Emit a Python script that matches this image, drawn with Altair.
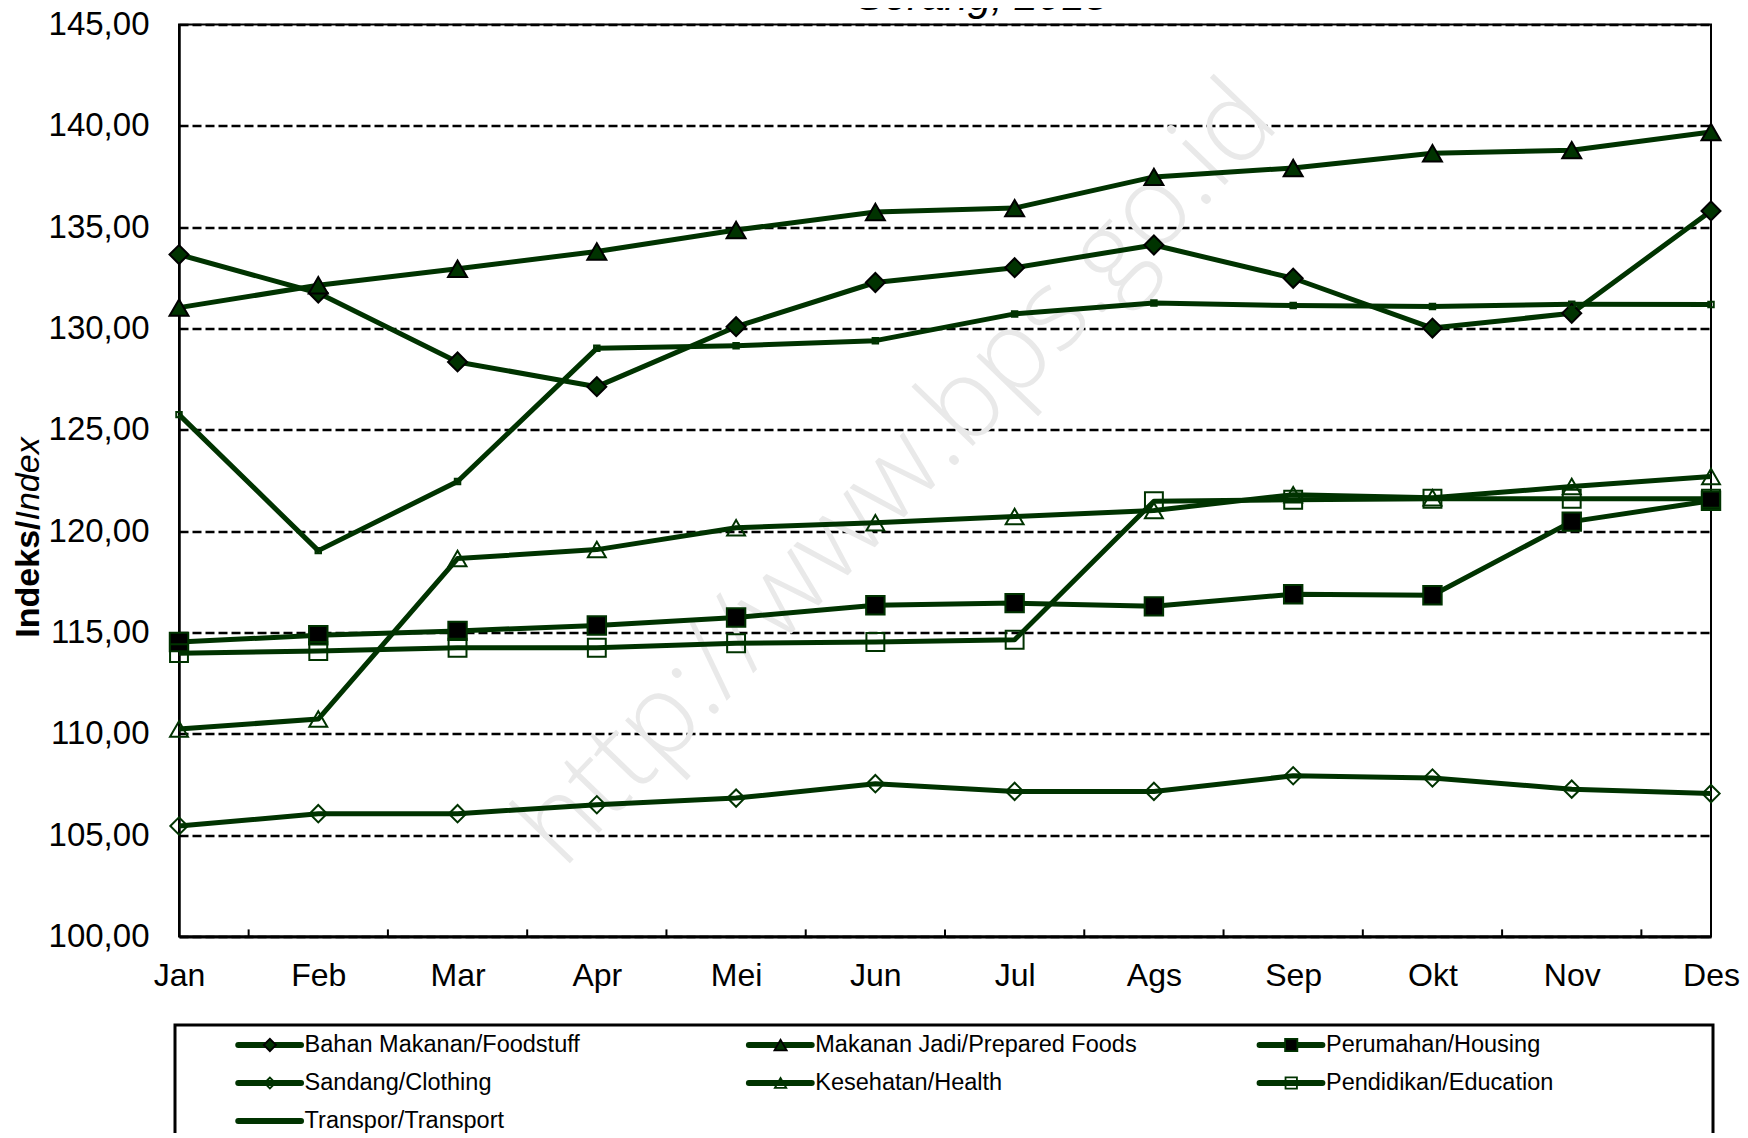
import altair as alt
import pandas as pd

# ---------------- data ----------------
months = ["Jan", "Feb", "Mar", "Apr", "Mei", "Jun", "Jul", "Ags", "Sep", "Okt", "Nov", "Des"]
series_names = [
    "Bahan Makanan/Foodstuff",
    "Makanan Jadi/Prepared Foods",
    "Perumahan/Housing",
    "Sandang/Clothing",
    "Kesehatan/Health",
    "Pendidikan/Education",
    "Transpor/Transport",
]
bahan_makanan = [133.65, 131.75, 128.35, 127.13, 130.09, 132.27, 133.00, 134.12, 132.48, 130.02, 130.75, 135.80]
makanan_jadi = [131.03, 132.13, 132.95, 133.80, 134.86, 135.75, 135.94, 137.48, 137.92, 138.65, 138.80, 139.70]
perumahan = [114.53, 114.86, 115.08, 115.35, 115.74, 116.34, 116.45, 116.29, 116.89, 116.84, 120.47, 121.50]
sandang = [105.45, 106.06, 106.06, 106.50, 106.83, 107.54, 107.16, 107.16, 107.93, 107.82, 107.27, 107.05]
kesehatan = [110.24, 110.73, 118.65, 119.09, 120.17, 120.42, 120.72, 121.02, 121.80, 121.65, 122.20, 122.70]
pendidikan = [113.98, 114.09, 114.25, 114.25, 114.47, 114.53, 114.64, 121.48, 121.55, 121.60, 121.60, 121.60]
transpor = [125.75, 119.04, 122.45, 129.02, 129.15, 129.40, 130.72, 131.26, 131.13, 131.08, 131.20, 131.18]
all_values = [bahan_makanan, makanan_jadi, perumahan, sandang, kesehatan, pendidikan, transpor]

y_tick_values = [100, 105, 110, 115, 120, 125, 130, 135, 140, 145]
x_minor_ticks = [0.5, 1.5, 2.5, 3.5, 4.5, 5.5, 6.5, 7.5, 8.5, 9.5, 10.5]
title_text = "Serang, 2018"
ytitle_bold = "Indeks/"
ytitle_italic = "Index"
watermark_text = "http://www.bps.go.id"

# ---------------- styles ----------------
GREEN = "#003300"
FONT = "Liberation Sans"
marker_shapes = ["diamond", "triangle-up", "square", "diamond", "triangle-up", "square", "square"]
marker_fills = [GREEN, GREEN, "#000000", "transparent", "transparent", "transparent", "transparent"]
marker_strokes = ["#000000", "#000000", GREEN, GREEN, GREEN, GREEN, GREEN]
marker_sizes = [360, 360, 340, 300, 320, 320, 30]
legend_marker_sizes = [150, 150, 150, 120, 130, 130, 0]

W, H = 1532, 912

rows = []
for name, vals in zip(series_names, all_values):
    for i, v in enumerate(vals):
        rows.append({"series": name, "m": i, "value": v})
df = pd.DataFrame(rows)

size_map = dict(zip(series_names, marker_sizes))
df["msize"] = df["series"].map(size_map)

months_js = "[" + ",".join("'" + m + "'" for m in months) + "]"

x_scale = alt.Scale(domain=[0, 11], nice=False, zero=False)
y_scale = alt.Scale(domain=[100, 145], nice=False, zero=False)
x_axis = alt.Axis(values=list(range(12)), labelExpr=months_js + "[datum.value]", title=None,
                  grid=False, ticks=False, tickSize=0, labelPadding=24, domainWidth=3,
                  domainColor="black", labelFontSize=32, labelFont=FONT, labelColor="black",
                  labelFlush=False, labelOverlap=False, labelBound=False)
y_axis = alt.Axis(values=y_tick_values, labelExpr="replace(format(datum.value, '.2f'), '.', ',')",
                  title=None, grid=True, gridDash=[9, 4], gridColor="black", gridWidth=2.5,
                  gridOpacity=1, ticks=False, tickSize=0, labelPadding=30, domainWidth=2.5,
                  domainColor="black", labelFontSize=33, labelFont=FONT, labelColor="black",
                  labelFlush=False, labelOverlap=False, labelBound=False)

shape_scale = alt.Scale(domain=series_names, range=marker_shapes)
fill_scale = alt.Scale(domain=series_names, range=marker_fills)
stroke_scale = alt.Scale(domain=series_names, range=marker_strokes)

base = alt.Chart(df)

lines = base.mark_line(strokeWidth=5, color=GREEN, strokeJoin="round").encode(
    x=alt.X("m:Q", scale=x_scale, axis=x_axis),
    y=alt.Y("value:Q", scale=y_scale, axis=y_axis),
    detail="series:N",
)

points = base.mark_point(filled=True, strokeWidth=2, opacity=1).encode(
    x=alt.X("m:Q", scale=x_scale, axis=x_axis),
    y=alt.Y("value:Q", scale=y_scale, axis=y_axis),
    shape=alt.Shape("series:N", scale=shape_scale, legend=None),
    fill=alt.Fill("series:N", scale=fill_scale, legend=None),
    stroke=alt.Stroke("series:N", scale=stroke_scale, legend=None),
    size=alt.Size("msize:Q", scale=None, legend=None),
)

tick_df = pd.DataFrame({"t": x_minor_ticks, "y0": [100.0] * len(x_minor_ticks),
                        "y1": [100.35] * len(x_minor_ticks)})
ticks = alt.Chart(tick_df).mark_rule(color="black", strokeWidth=2).encode(
    x=alt.X("t:Q", scale=x_scale, axis=x_axis),
    y=alt.Y("y0:Q", scale=y_scale, axis=y_axis),
    y2="y1:Q",
)

one = pd.DataFrame({"k": [0]})
watermark = alt.Chart(one).mark_text(
    text=watermark_text, angle=314, fontSize=112, font="Open Sans", fontWeight=300,
    color="#e9e9e9", align="center", baseline="middle",
).encode(x=alt.value(719), y=alt.value(450))

title = alt.Chart(one).mark_text(
    text=title_text, fontSize=42, font=FONT, fontStyle="italic", color="black",
    align="center", baseline="alphabetic",
).encode(x=alt.value(803), y=alt.value(-14.5))

ytitle1 = alt.Chart(one).mark_text(
    text=ytitle_bold, fontSize=34, font=FONT, fontWeight="bold", color="black",
    angle=270, align="right", baseline="middle",
).encode(x=alt.value(-150.5), y=alt.value(496))
ytitle2 = alt.Chart(one).mark_text(
    text=ytitle_italic, fontSize=34, font=FONT, fontStyle="italic", color="black",
    angle=270, align="left", baseline="middle",
).encode(x=alt.value(-150.5), y=alt.value(496))

main = alt.layer(watermark, lines, points, ticks, title, ytitle1, ytitle2)

# ---------------- legend (below the plot) ----------------
leg = pd.DataFrame({"series": series_names})
leg["col"] = [i % 3 for i in range(len(series_names))]
leg["row"] = [i // 3 for i in range(len(series_names))]
leg["sx0"] = leg["col"] + 0.116
leg["sx1"] = leg["col"] + 0.239
leg["mx"] = leg["col"] + 0.178
leg["tx"] = leg["col"] + 0.246
leg["lsize"] = leg["series"].map(dict(zip(series_names, legend_marker_sizes)))

ROW_PX = 38.0
d0 = -1020.5 / ROW_PX
leg_x_scale = alt.Scale(domain=[0, 3], nice=False, zero=False)
leg_y_scale = alt.Scale(domain=[d0, d0 + H / ROW_PX], nice=False, zero=False, reverse=True)

legbase = alt.Chart(leg)
leg_box = alt.Chart(one).mark_rect(fill="transparent", stroke="black", strokeWidth=3).encode(
    x=alt.value(-4), x2=alt.value(W + 2), y=alt.value(1000.5), y2=alt.value(1250)
)
leg_lines = legbase.mark_rule(strokeWidth=6, color=GREEN, strokeCap="round").encode(
    x=alt.X("sx0:Q", scale=leg_x_scale, axis=None),
    x2="sx1:Q",
    y=alt.Y("row:Q", scale=leg_y_scale, axis=None),
)
leg_points = legbase.transform_filter("datum.lsize > 0").mark_point(
    filled=True, strokeWidth=1.8, opacity=1
).encode(
    x=alt.X("mx:Q", scale=leg_x_scale, axis=None),
    y=alt.Y("row:Q", scale=leg_y_scale, axis=None),
    shape=alt.Shape("series:N", scale=shape_scale, legend=None),
    fill=alt.Fill("series:N", scale=fill_scale, legend=None),
    stroke=alt.Stroke("series:N", scale=stroke_scale, legend=None),
    size=alt.Size("lsize:Q", scale=None, legend=None),
)
leg_text = legbase.mark_text(align="left", baseline="middle", fontSize=23.5, font=FONT,
                             color="black").encode(
    x=alt.X("tx:Q", scale=leg_x_scale, axis=None),
    y=alt.Y("row:Q", scale=leg_y_scale, axis=None),
    text="series:N",
)
legend = alt.layer(leg_box, leg_lines, leg_points, leg_text)

chart = alt.layer(main, legend).resolve_scale(
    x="independent", y="independent"
).properties(
    width=W, height=H,
    autosize=alt.AutoSizeParams(type="none"),
    padding={"left": 171, "top": 16.5, "right": 29, "bottom": 196},
    background="white",
).configure_view(stroke="black", strokeWidth=2)

chart.save("out.html", embed_options={"renderer": "svg", "actions": False})
